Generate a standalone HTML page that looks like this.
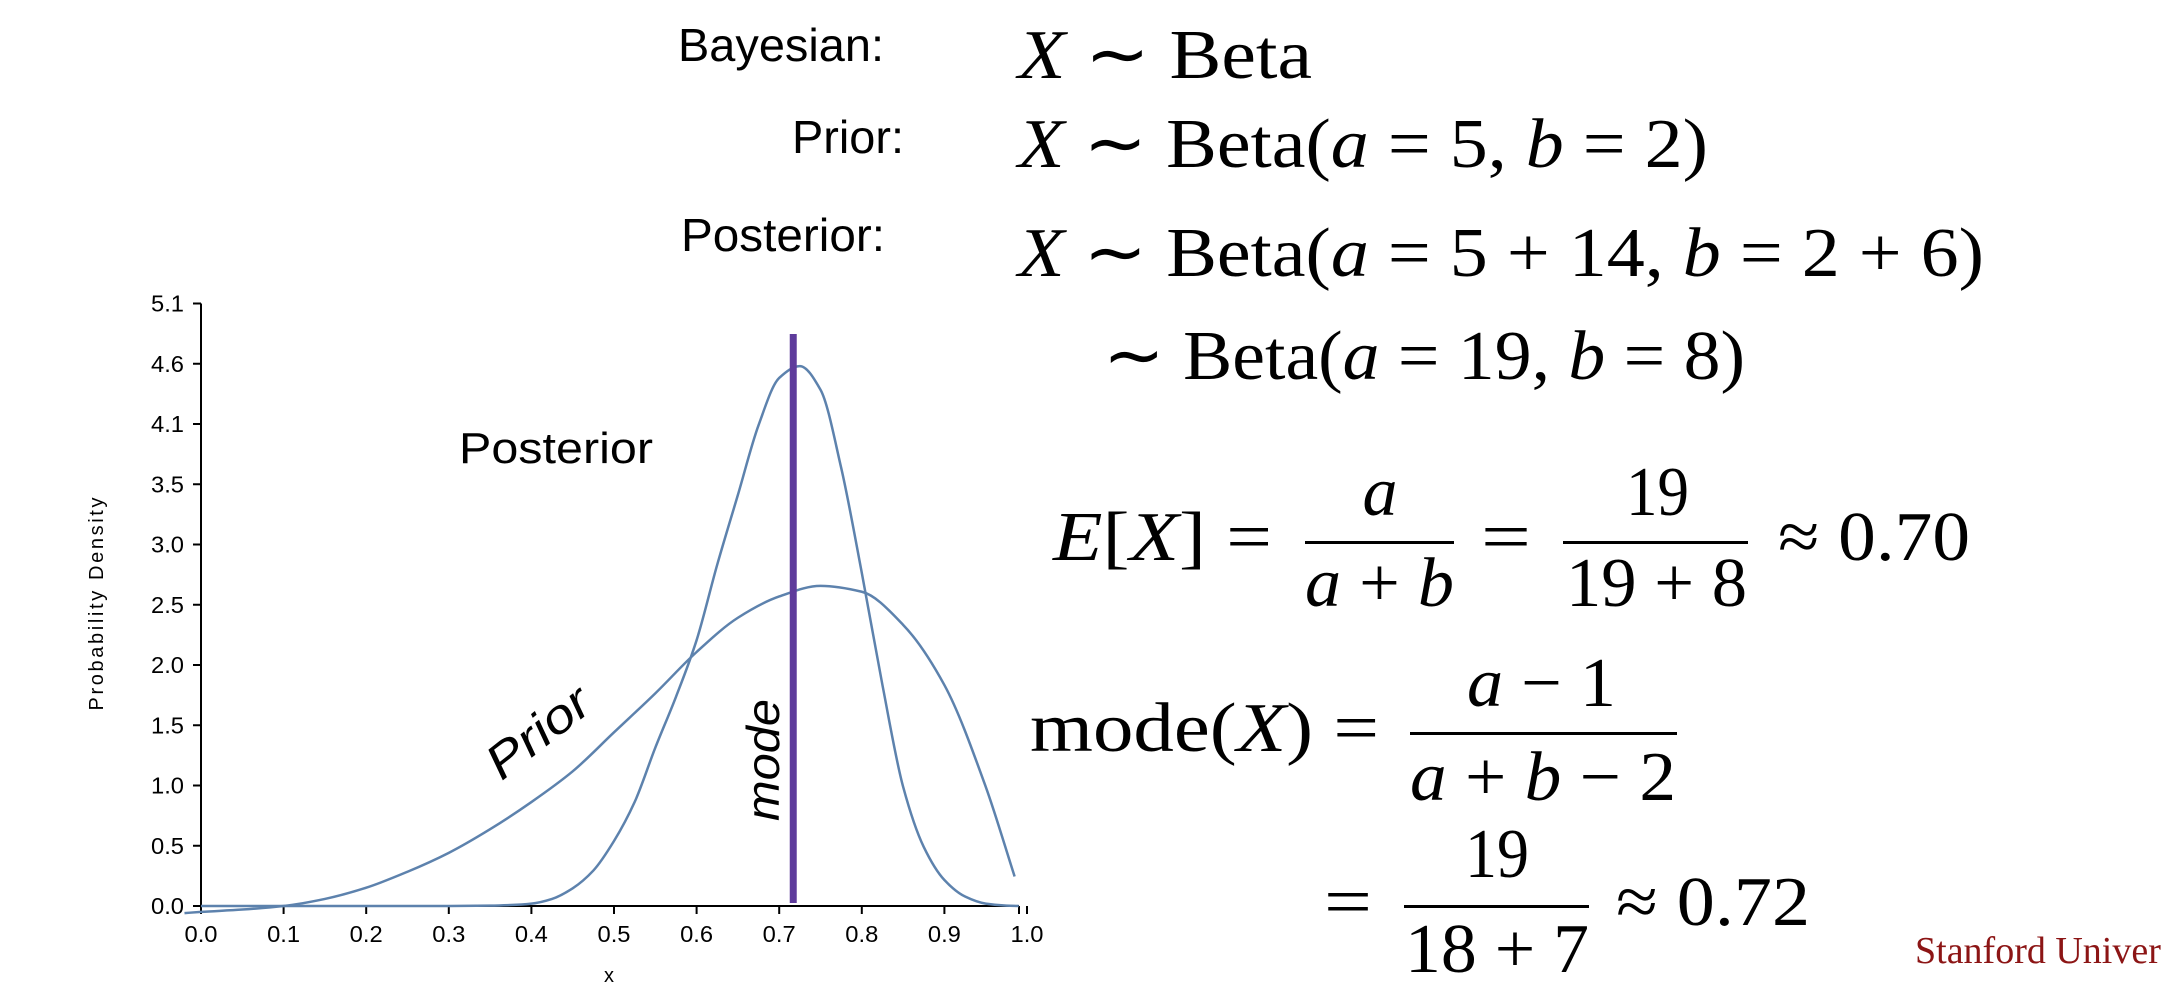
<!DOCTYPE html>
<html><head><meta charset="utf-8"><style>
html,body{margin:0;padding:0;background:#fff;}
svg{display:block;}
.sans{font-family:"Liberation Sans",sans-serif;}
.serif{font-family:"Liberation Serif",serif;}
.it{font-style:italic;}
</style></head><body>
<svg width="2162" height="990" viewBox="0 0 2162 990" xmlns="http://www.w3.org/2000/svg">
<g id="chart"></g>
<g class="sans" fill="#000">
<text x="678" y="61" font-size="46" textLength="206" lengthAdjust="spacingAndGlyphs">Bayesian:</text>
<text x="792" y="153" font-size="46" textLength="112" lengthAdjust="spacingAndGlyphs">Prior:</text>
<text x="681" y="251" font-size="46" textLength="204" lengthAdjust="spacingAndGlyphs">Posterior:</text>
</g>
<g class="serif" fill="#000" font-size="70">
<text x="1018" y="78" textLength="294" lengthAdjust="spacingAndGlyphs"><tspan class="it">X</tspan> ∼ Beta</text>
<text x="1018" y="167" textLength="690" lengthAdjust="spacingAndGlyphs"><tspan class="it">X</tspan> ∼ Beta(<tspan class="it">a</tspan> = 5, <tspan class="it">b</tspan> = 2)</text>
<text x="1018" y="276" textLength="966" lengthAdjust="spacingAndGlyphs"><tspan class="it">X</tspan> ∼ Beta(<tspan class="it">a</tspan> = 5 + 14, <tspan class="it">b</tspan> = 2 + 6)</text>
<text x="1103" y="379" textLength="642" lengthAdjust="spacingAndGlyphs">∼ Beta(<tspan class="it">a</tspan> = 19, <tspan class="it">b</tspan> = 8)</text>

<text x="1053" y="560" textLength="219" lengthAdjust="spacingAndGlyphs"><tspan class="it">E</tspan>[<tspan class="it">X</tspan>] =</text>
<text x="1380" y="515" text-anchor="middle" class="it">a</text>
<rect x="1305" y="541" width="149" height="3"/>
<text x="1305" y="606" textLength="149" lengthAdjust="spacingAndGlyphs"><tspan class="it">a</tspan> + <tspan class="it">b</tspan></text>
<text x="1481" y="560" textLength="50" lengthAdjust="spacingAndGlyphs">=</text>
<text x="1626" y="515" textLength="63" lengthAdjust="spacingAndGlyphs">19</text>
<rect x="1563" y="541" width="185" height="3"/>
<text x="1566" y="606" textLength="181" lengthAdjust="spacingAndGlyphs">19 + 8</text>
<text x="1778" y="560" textLength="192" lengthAdjust="spacingAndGlyphs">≈ 0.70</text>

<text x="1030" y="751" textLength="349" lengthAdjust="spacingAndGlyphs">mode(<tspan class="it">X</tspan>) =</text>
<text x="1467" y="706" textLength="149" lengthAdjust="spacingAndGlyphs"><tspan class="it">a</tspan> − 1</text>
<rect x="1410" y="732" width="267" height="3"/>
<text x="1410" y="800" textLength="266" lengthAdjust="spacingAndGlyphs"><tspan class="it">a</tspan> + <tspan class="it">b</tspan> − 2</text>
<text x="1324" y="925" textLength="48" lengthAdjust="spacingAndGlyphs">=</text>
<text x="1465" y="877" textLength="64" lengthAdjust="spacingAndGlyphs">19</text>
<rect x="1404" y="905" width="185" height="3"/>
<text x="1405" y="972" textLength="184" lengthAdjust="spacingAndGlyphs">18 + 7</text>
<text x="1616" y="925" textLength="194" lengthAdjust="spacingAndGlyphs">≈ 0.72</text>
</g>
<text x="1915" y="963" class="serif" font-size="38" fill="#8c1515">Stanford University</text>
</svg>
<script>
const priorX = [-0.02,0.0,0.05,0.1,0.15,0.2,0.25,0.3,0.35,0.4,0.45,0.5,0.55,0.6,0.65,0.7,0.75,0.8,0.85,0.9,0.95,0.985];
const priorY = [-0.06,-0.05,-0.03,0.0,0.06,0.155,0.29,0.45,0.65,0.88,1.14,1.47,1.80,2.15,2.44,2.62,2.71,2.66,2.38,1.87,1.01,0.25];
const postX = [0.0,0.1,0.2,0.3,0.35,0.375,0.4,0.425,0.45,0.475,0.5,0.525,0.55,0.575,0.6,0.625,0.65,0.675,0.7,0.725,0.75,0.775,0.8,0.825,0.85,0.875,0.9,0.925,0.95,0.975,0.99];
const postY = [0,0,0,0,0.003,0.008,0.02,0.06,0.15,0.3,0.55,0.88,1.34,1.77,2.25,2.89,3.48,4.07,4.47,4.57,4.37,3.71,2.82,1.87,1.01,0.5,0.22,0.08,0.02,0.003,0];
const modeValue = 0.717;
const xTicks = [0,0.1,0.2,0.3,0.4,0.5,0.6,0.7,0.8,0.9,1.0];
const yTicks = [0,0.51,1.02,1.53,2.04,2.55,3.06,3.57,4.08,4.59,5.1];
const yTickLabels = ["0.0","0.5","1.0","1.5","2.0","2.5","3.0","3.5","4.1","4.6","5.1"];

const NS="http://www.w3.org/2000/svg";
const X0=201,X1=1027,Y0=906,Y1=303.5;
const sx=v=>X0+v*(X1-X0);
const sy=v=>Y0-v/5.1*(Y0-Y1);
const g=document.getElementById('chart');
function mk(tag,attrs,parent){const e=document.createElementNS(NS,tag);for(const k in attrs)e.setAttribute(k,attrs[k]);(parent||g).appendChild(e);return e;}
// monotone cubic (Fritsch-Carlson) path
function path(xs,ys){
  const px=xs.map(sx), py=ys.map(sy), n=px.length;
  const d=[],m=new Array(n);
  for(let i=0;i<n-1;i++)d.push((py[i+1]-py[i])/(px[i+1]-px[i]));
  m[0]=d[0];m[n-1]=d[n-2];
  for(let i=1;i<n-1;i++){
    if(d[i-1]*d[i]<=0)m[i]=0;
    else{const h0=px[i]-px[i-1],h1=px[i+1]-px[i];
      m[i]=3*(h0+h1)/((2*h1+h0)/d[i-1]+(h1+2*h0)/d[i]);}
  }
  let s=`M${px[0]},${py[0]}`;
  for(let i=0;i<n-1;i++){
    const h=(px[i+1]-px[i])/3;
    s+=` C${px[i]+h},${py[i]+m[i]*h} ${px[i+1]-h},${py[i+1]-m[i+1]*h} ${px[i+1]},${py[i+1]}`;
  }
  return s;
}
// axes
let ax=mk('line',{x1:X0,y1:Y1,x2:X0,y2:Y0,stroke:'#000','stroke-width':2});


let axx=mk('line',{x1:X0-6,y1:Y0,x2:X1-8,y2:Y0,stroke:'#000','stroke-width':2});


mk('line',{x1:X1-8,y1:Y0,x2:X1-8,y2:Y0+8,stroke:'#000','stroke-width':2});
xTicks.forEach(v=>{
  const t=mk('line',{x1:sx(v),y1:Y0,x2:sx(v),y2:Y0+8,stroke:'#000','stroke-width':2});
  
  
  const l=mk('text',{x:sx(v),y:942,'text-anchor':'middle','font-size':23,'font-family':'Liberation Sans, sans-serif',textLength:33,lengthAdjust:'spacingAndGlyphs'});
  l.textContent=v.toFixed(1);
  
  
});
yTicks.forEach((v,i)=>{
  const t=mk('line',{x1:X0-8,y1:sy(v),x2:X0,y2:sy(v),stroke:'#000','stroke-width':2});
  
  
  const l=mk('text',{x:151,y:sy(v)+8,'font-size':23,'font-family':'Liberation Sans, sans-serif',textLength:33,lengthAdjust:'spacingAndGlyphs'});
  l.textContent=yTickLabels[i];
  
  
});
const yt=mk('text',{x:0,y:0,transform:'translate(103,604) rotate(-90)','text-anchor':'middle','font-size':20,'font-family':'Liberation Sans, sans-serif',textLength:213});
yt.textContent='Probability Density';


const xt=mk('text',{x:609,y:982,'text-anchor':'middle','font-size':20,'font-family':'Liberation Sans, sans-serif'});
xt.textContent='x';


// curves
const pr=mk('path',{d:path(priorX,priorY),fill:'none',stroke:'#5d82ad','stroke-width':2.5});


const po=mk('path',{d:path(postX,postY),fill:'none',stroke:'#5d82ad','stroke-width':2.5});


const ml=mk('line',{x1:sx(modeValue),y1:334,x2:sx(modeValue),y2:903,stroke:'#5e3b9b','stroke-width':7});


// annotations
const pl=mk('text',{x:459,y:463,'font-size':44,'font-family':'Liberation Sans, sans-serif',textLength:194,lengthAdjust:'spacingAndGlyphs'});
pl.textContent='Posterior';


const pri=mk('text',{x:0,y:0,transform:'translate(548,745) rotate(-38)','text-anchor':'middle','font-size':48,'font-style':'italic','font-family':'Liberation Sans, sans-serif',textLength:118,lengthAdjust:'spacingAndGlyphs'});
pri.textContent='Prior';


const mo=mk('text',{x:0,y:0,transform:'translate(779,760) rotate(-90)','text-anchor':'middle','font-size':46,'font-style':'italic','font-family':'Liberation Sans, sans-serif',textLength:122,lengthAdjust:'spacingAndGlyphs'});
mo.textContent='mode';


</script>
</body></html>
